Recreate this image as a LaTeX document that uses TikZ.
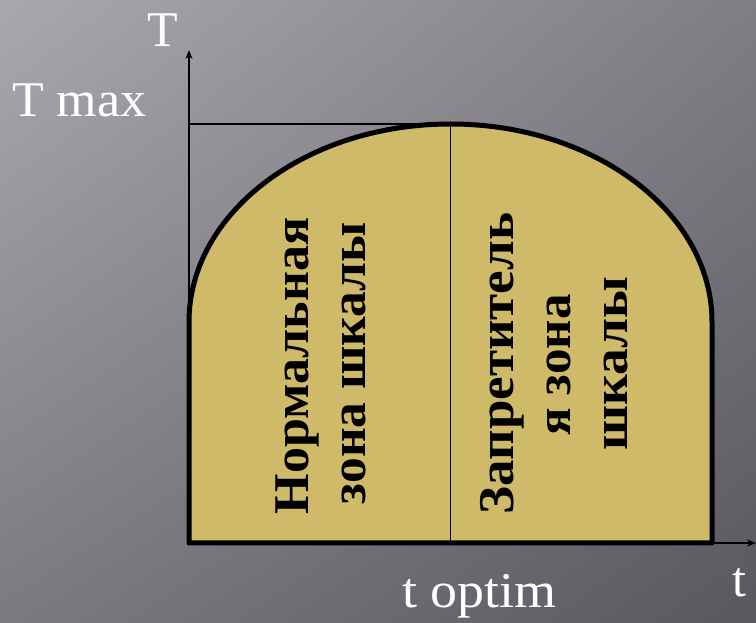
\documentclass[tikz,border=0pt]{standalone}
\usepackage{fontspec}
\setmainfont{Liberation Serif}
\usetikzlibrary{arrows.meta,shadings}
\definecolor{zonefill}{RGB}{206,186,104}
\definecolor{bgUL}{RGB}{170,167,175}
\definecolor{bgUR}{RGB}{128,125,133}
\definecolor{bgLL}{RGB}{124,121,128}
\definecolor{bgLR}{RGB}{90,88,94}
\tikzset{
  axislabel/.style={text=white, font=\fontsize{50}{50}\selectfont, inner sep=0pt, anchor=base west},
  zonelabel/.style={text=black, font=\bfseries\fontsize{50}{50}\selectfont, inner sep=0pt, anchor=base, rotate=90},
  thinline/.style={draw=black, line width=1.8pt},
  axisarrow/.style={draw=black, line width=1.6pt, -{Stealth[length=9pt,width=7pt]}},
  zoneshape/.style={draw=black, fill=zonefill, line width=5pt, line join=round}
}
\begin{document}
\begin{tikzpicture}[x=1pt,y=1pt]
\useasboundingbox (0,0) rectangle (756,622);
\shade[upper left=bgUL, upper right=bgUR, lower left=bgLL, lower right=bgLR] (0,0) rectangle (756,622);
% coordinates
\coordinate (origin) at (189,79);
\coordinate (ytip) at (189,572);
\coordinate (ymax) at (189,498);
\coordinate (peak) at (450.5,498);
\coordinate (divbot) at (450.5,80);
\coordinate (xstart) at (712,79);
\coordinate (xtip) at (756,79);
% axes
\draw[axisarrow] (origin) -- (ytip);
\draw[thinline] (ymax) -- (peak);
% zone shape
\draw[zoneshape] (189,79) -- (189,300) arc[start angle=180, end angle=0, x radius=261.5, y radius=198] -- (712,79) -- cycle;
\draw[thinline] (peak) -- (divbot);
\draw[axisarrow] (xstart) -- (xtip);
% zone labels
\node[zonelabel] (n1) at (308,256) {\scalebox{1.04}[1]{Нормальная}};
\node[zonelabel] (n2) at (365,259) {\scalebox{1.03}[1]{зона шкалы}};
\node[zonelabel] (z1) at (513,258.5) {\scalebox{1.06}[1]{Запретитель}};
\node[zonelabel] (z2) at (570,257) {\scalebox{1.02}[1]{я зона}};
\node[zonelabel] (z3) at (627,258.5) {\scalebox{1.07}[1]{шкалы}};
% axis labels
\node[axislabel] (T) at (147,575) {T};
\node[axislabel] (Tmax) at (12,505) {\scalebox{1.04}[1]{T max}};
\node[axislabel] (topt) at (402,14) {\scalebox{1.08}[1]{t optim}};
\node[axislabel] (t) at (732,25) {t};
\end{tikzpicture}
\end{document}
